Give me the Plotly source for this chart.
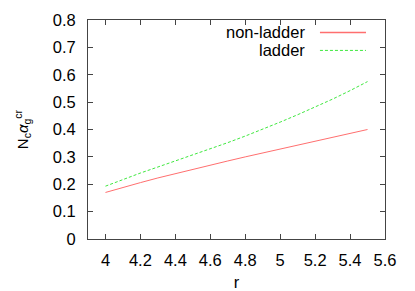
import plotly.graph_objects as go

r = [4.0, 4.1, 4.2, 4.3, 4.4, 4.5, 4.6, 4.7, 4.8, 4.9, 5.0, 5.1, 5.2, 5.3, 5.4, 5.5]
non_ladder = [0.170, 0.189, 0.206, 0.223, 0.239, 0.255, 0.270, 0.285, 0.300,
              0.314, 0.328, 0.342, 0.356, 0.370, 0.385, 0.400]
ladder = [0.193, 0.218, 0.241, 0.263, 0.285, 0.307, 0.329, 0.352, 0.376,
          0.401, 0.427, 0.454, 0.482, 0.511, 0.542, 0.575]
series_names = ["non-ladder", "ladder"]
x_ticks = [4, 4.2, 4.4, 4.6, 4.8, 5, 5.2, 5.4, 5.6]
y_ticks = [0, 0.1, 0.2, 0.3, 0.4, 0.5, 0.6, 0.7, 0.8]

RED = "#ff6f6f"
GREEN = "#3fe83f"
FONT = "Liberation Sans, Arial, sans-serif"

fig = go.Figure()
fig.add_trace(go.Scatter(x=r, y=non_ladder, mode="lines", name=series_names[0],
                         line=dict(color=RED, width=1)))
fig.add_trace(go.Scatter(x=r, y=ladder, mode="lines", name=series_names[1],
                         line=dict(color=GREEN, width=1, dash="3px,2px")))

# gnuplot-style legend: right-aligned text, line sample to the right
leg_rows = [(series_names[0], RED, "solid", 0.9433), (series_names[1], GREEN, "3px,2px", 0.8611)]
for name, col, dash, yp in leg_rows:
    fig.add_annotation(xref="paper", yref="paper", x=0.737, y=yp, text=name,
                       showarrow=False, xanchor="right", yanchor="middle",
                       font=dict(family=FONT, size=16.5, color="black"))
    fig.add_shape(type="line", xref="paper", yref="paper", x0=0.781, x1=0.936,
                  y0=yp, y1=yp, line=dict(color=col, width=1.5 if dash == "solid" else 1, dash=dash))

axis_common = dict(showline=True, linecolor="#444444", linewidth=1, mirror="ticks",
                   ticks="inside", ticklen=5, tickcolor="#444444", showgrid=False,
                   zeroline=False, automargin=False,
                   tickfont=dict(family=FONT, size=16.5, color="black"))

fig.update_layout(
    width=415, height=291,
    margin=dict(l=88, r=30, t=20, b=52, autoexpand=False),
    paper_bgcolor="white", plot_bgcolor="white",
    showlegend=False,
    xaxis=dict(range=[3.9, 5.6], tickvals=x_ticks, ticktext=[f"{v:g}" for v in x_ticks],
               ticklabelstandoff=6,
               title=dict(text="r", font=dict(family=FONT, size=16.5, color="black"), standoff=8),
               **axis_common),
    yaxis=dict(range=[0, 0.8], tickvals=y_ticks, ticktext=[f"{v:g}" for v in y_ticks],
               ticklabelstandoff=8,
               title=dict(text="N<sub>c</sub><i>α</i><sub>g</sub><sup>cr</sup>",
                          font=dict(family=FONT, size=15, color="black"), standoff=20),
               **axis_common),
)

fig.write_html("out.html", config={"displayModeBar": False},
               post_script="document.body.style.margin='0';document.body.style.overflow='hidden';")
